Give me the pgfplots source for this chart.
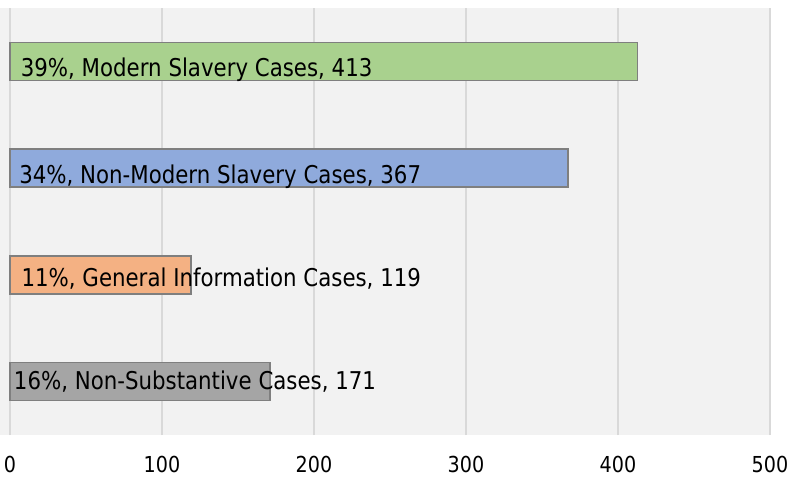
\documentclass[border=0pt]{standalone}
\usepackage{pgfplots}
\pgfplotsset{compat=1.18}
\usepackage{fontspec}
\setmainfont{DejaVu Sans}[FakeStretch=0.87]
\definecolor{bg}{HTML}{F2F2F2}
\definecolor{gridc}{HTML}{D9D9D9}
\definecolor{bord}{HTML}{7F7F7F}
\definecolor{cgreen}{HTML}{A9D18E}
\definecolor{cblue}{HTML}{8FAADC}
\definecolor{corange}{HTML}{F4B183}
\definecolor{cgray}{HTML}{A5A5A5}
\begin{document}
\begin{tikzpicture}
\path (-10bp,-42bp) rectangle (780bp,435bp);
\fill[bg] (-10bp,0) rectangle (760bp,427bp);
\begin{axis}[
  at={(0,0)}, anchor=south west,
  scale only axis, width=760bp, height=427bp,
  xmin=0, xmax=500, ymin=-0.5, ymax=3.5,
  axis line style={draw=none}, major tick length=0pt,
  xtick={0,100,...,500}, ytick=\empty,
  xmajorgrids, grid style={color=gridc, line width=1.5bp},
  xticklabel={\fontsize{22bp}{26bp}\selectfont\pgfmathprintnumber[assume math mode=true]{\tick}},
  xticklabel style={anchor=north, inner sep=0pt, yshift=-20.5bp},
  clip=false,
]
\addplot[xbar, bar shift=0pt, bar width=38bp, fill=cgray, draw=bord, line width=1.4bp] coordinates {(171,0)};
\addplot[xbar, bar shift=0pt, bar width=38bp, fill=corange, draw=bord, line width=1.4bp] coordinates {(119,1)};
\addplot[xbar, bar shift=0pt, bar width=38bp, fill=cblue, draw=bord, line width=1.4bp] coordinates {(367,2)};
\addplot[xbar, bar shift=0pt, bar width=38bp, fill=cgreen, draw=bord, line width=1.4bp] coordinates {(413,3)};
\addplot[draw=none, mark=none, nodes near coords, point meta=explicit symbolic,
  nodes near coords style={anchor=west, inner sep=0pt, text=black, font=\fontsize{24.5bp}{28bp}\selectfont}]
  coordinates {
  (2.5,-0.001) [16\%, Non-Substantive Cases, 171]
  (7.5,0.962) [11\%, General Information Cases, 119]
  (6,1.915) [34\%, Non-Modern Slavery Cases, 367]
  (7,2.925) [39\%, Modern Slavery Cases, 413]
  };
\end{axis}
\end{tikzpicture}
\end{document}
